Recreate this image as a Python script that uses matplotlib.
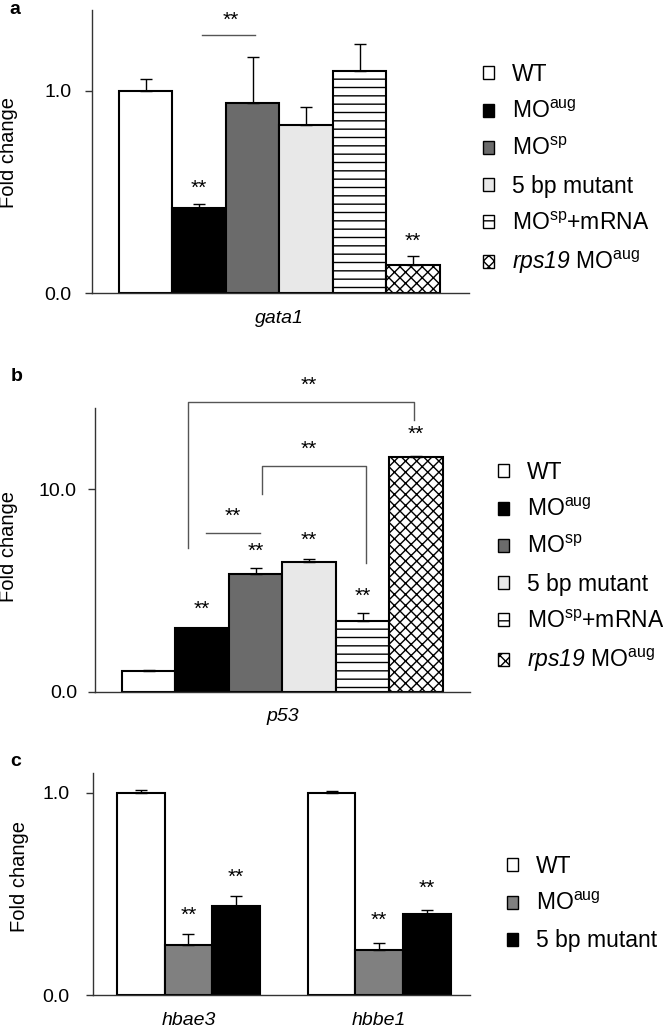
import matplotlib.pyplot as plt
from matplotlib.patches import Patch

plt.rcParams['font.family'] = ['Liberation Sans', 'DejaVu Sans']
plt.rcParams['mathtext.fontset'] = 'custom'
plt.rcParams['mathtext.rm'] = 'Liberation Sans'
plt.rcParams['mathtext.it'] = 'Liberation Sans:italic'
# sf slot used for fully italic text (digits included)
plt.rcParams['mathtext.sf'] = 'Liberation Sans:italic'
plt.rcParams['hatch.linewidth'] = 1.0

# ---- data ----
labels_ab = ['WT', r'MO$^{\rm aug}$', r'MO$^{\rm sp}$', '5 bp mutant',
             r'MO$^{\rm sp}$+mRNA', r'$\mathsf{rps19}$ MO$^{\rm aug}$']
gata1_mean = [1.00, 0.42, 0.94, 0.83, 1.10, 0.14]
gata1_err = [0.06, 0.02, 0.23, 0.09, 0.13, 0.045]
p53_mean = [1.00, 3.13, 5.79, 6.38, 3.50, 11.56]
p53_err = [0.05, 0.03, 0.33, 0.15, 0.40, 0.05]

labels_c = ['WT', r'MO$^{\rm aug}$', '5 bp mutant']
genes_c = ['hbae3', 'hbbe1']
hb_wt = [1.00, 1.00]
hb_wt_err = [0.016, 0.008]
hb_mo = [0.25, 0.225]
hb_mo_err = [0.05, 0.035]
hb_mut = [0.44, 0.40]
hb_mut_err = [0.05, 0.023]

# ---- styles ----
fc_ab = ['white', 'black', '#6b6b6b', '#e8e8e8', 'white', 'white']
hatch_ab = [None, None, None, None, '--', 'xxx']
fc_c = ['white', '#808080', 'black']
spine_col = '#333333'
brk_col = '#555555'

W, H = 663, 1029
fig = plt.figure(figsize=(W / 100, H / 100), dpi=100)


def style_axes(ax, ticks, ticklabels, pad):
    for s in ['top', 'right']:
        ax.spines[s].set_visible(False)
    for s in ['left', 'bottom']:
        ax.spines[s].set_color(spine_col)
        ax.spines[s].set_linewidth(1)
    ax.set_yticks(ticks)
    ax.set_yticklabels(ticklabels)
    ax.tick_params(axis='y', length=5, width=1, color=spine_col, pad=pad, labelsize=14)
    ax.tick_params(axis='x', length=0, pad=12, labelsize=14)


def legend(ax, labels, fcs, hatches, x, y):
    handles = [Patch(facecolor=f, edgecolor='black', hatch=h, linewidth=1)
               for f, h in zip(fcs, hatches)]
    ax.legend(handles, labels, loc='upper left',
              bbox_to_anchor=(x / W, 1 - y / H), bbox_transform=fig.transFigure,
              frameon=False, fontsize=16.5, handlelength=0.5, handleheight=0.5,
              handletextpad=0.75, labelspacing=0.62, borderpad=0, borderaxespad=0)


def star(ax, x, y):
    ax.text(x, y, '**', ha='center', va='center', fontsize=15, clip_on=False)


def bars(ax, x, mean, err, fcs, hatches):
    for i in range(len(x)):
        ax.bar(x[i], mean[i], width=1, color=fcs[i], edgecolor='black',
               linewidth=1.5, hatch=hatches[i], zorder=2)
    ax.errorbar(x, mean, yerr=[[0] * len(x), err], fmt='none',
                ecolor='black', elinewidth=1, capsize=4, capthick=1, zorder=3)


# ---- panel a ----
ax = fig.add_axes([92 / W, 0.715, 0.569, 0.2753])
x = list(range(len(gata1_mean)))
bars(ax, x, gata1_mean, gata1_err, fc_ab, hatch_ab)
ax.set_xlim(-1, 6.05)
ax.set_ylim(0, 1.40)
ax.set_xticks([2.5])
ax.set_xticklabels(['gata1'], style='italic')
style_axes(ax, [0, 1.0], ['0.0', '1.0'], 10)
ax.plot([1.05, 2.05], [1.276, 1.276], color=brk_col, lw=1)
star(ax, 1.6, 1.35)
star(ax, 1, 0.52)
star(ax, 5, 0.255)
legend(ax, labels_ab, fc_ab, hatch_ab, 483, 63)

# ---- panel b ----
ax = fig.add_axes([95 / W, 0.3278, 0.565, 0.2757])
bars(ax, x, p53_mean, p53_err, fc_ab, hatch_ab)
ax.set_xlim(-1, 6.0)
ax.set_ylim(0, 14)
ax.set_xticks([2.5])
ax.set_xticklabels(['p53'], style='italic')
style_axes(ax, [0, 10], ['0.0', '10.0'], 8)
ax.plot([0.73, 0.73, 4.97, 4.97], [7.07, 14.3, 14.3, 13.4], color=brk_col, lw=1, clip_on=False)
star(ax, 3.0, 15.1)
ax.plot([2.13, 2.13, 4.07, 4.07], [9.75, 11.13, 11.13, 6.36], color=brk_col, lw=1)
star(ax, 3.0, 11.96)
ax.plot([1.07, 2.09], [7.85, 7.85], color=brk_col, lw=1)
star(ax, 1.58, 8.63)
star(ax, 1, 4.06)
star(ax, 2, 6.94)
star(ax, 3, 7.48)
star(ax, 4, 4.72)
star(ax, 5, 12.7)
legend(ax, labels_ab, fc_ab, hatch_ab, 498, 461)

# ---- panel c ----
ax = fig.add_axes([93 / W, 0.033, 0.5684, 0.216])
centers = [1, 5]
series = [(hb_wt, hb_wt_err), (hb_mo, hb_mo_err), (hb_mut, hb_mut_err)]
for k, (m, e) in enumerate(series):
    xs = [c + k - 1 for c in centers]
    bars(ax, xs, m, e, [fc_c[k]] * 2, [None] * 2)
ax.set_xlim(-1, 6.9)
ax.set_ylim(0, 1.10)
ax.set_xticks(centers)
ax.set_xticklabels(genes_c, style='italic')
style_axes(ax, [0, 1.0], ['0.0', '1.0'], 12)
star(ax, 1, 0.395)
star(ax, 2, 0.584)
star(ax, 5, 0.37)
star(ax, 6, 0.526)
legend(ax, labels_c, fc_c, [None] * 3, 507, 855)

# ---- labels ----
for lbl, px, py in [('a', 15, 9), ('b', 17, 377), ('c', 16, 761)]:
    fig.text(px / W, 1 - py / H, lbl, fontsize=14, fontweight='bold', ha='center', va='center')
for px, py in [(9, 152), (9, 546), (20, 877)]:
    fig.text(px / W, 1 - py / H, 'Fold change', fontsize=14.5, rotation=90,
             ha='center', va='center')

fig.savefig('out.png', dpi=100)
